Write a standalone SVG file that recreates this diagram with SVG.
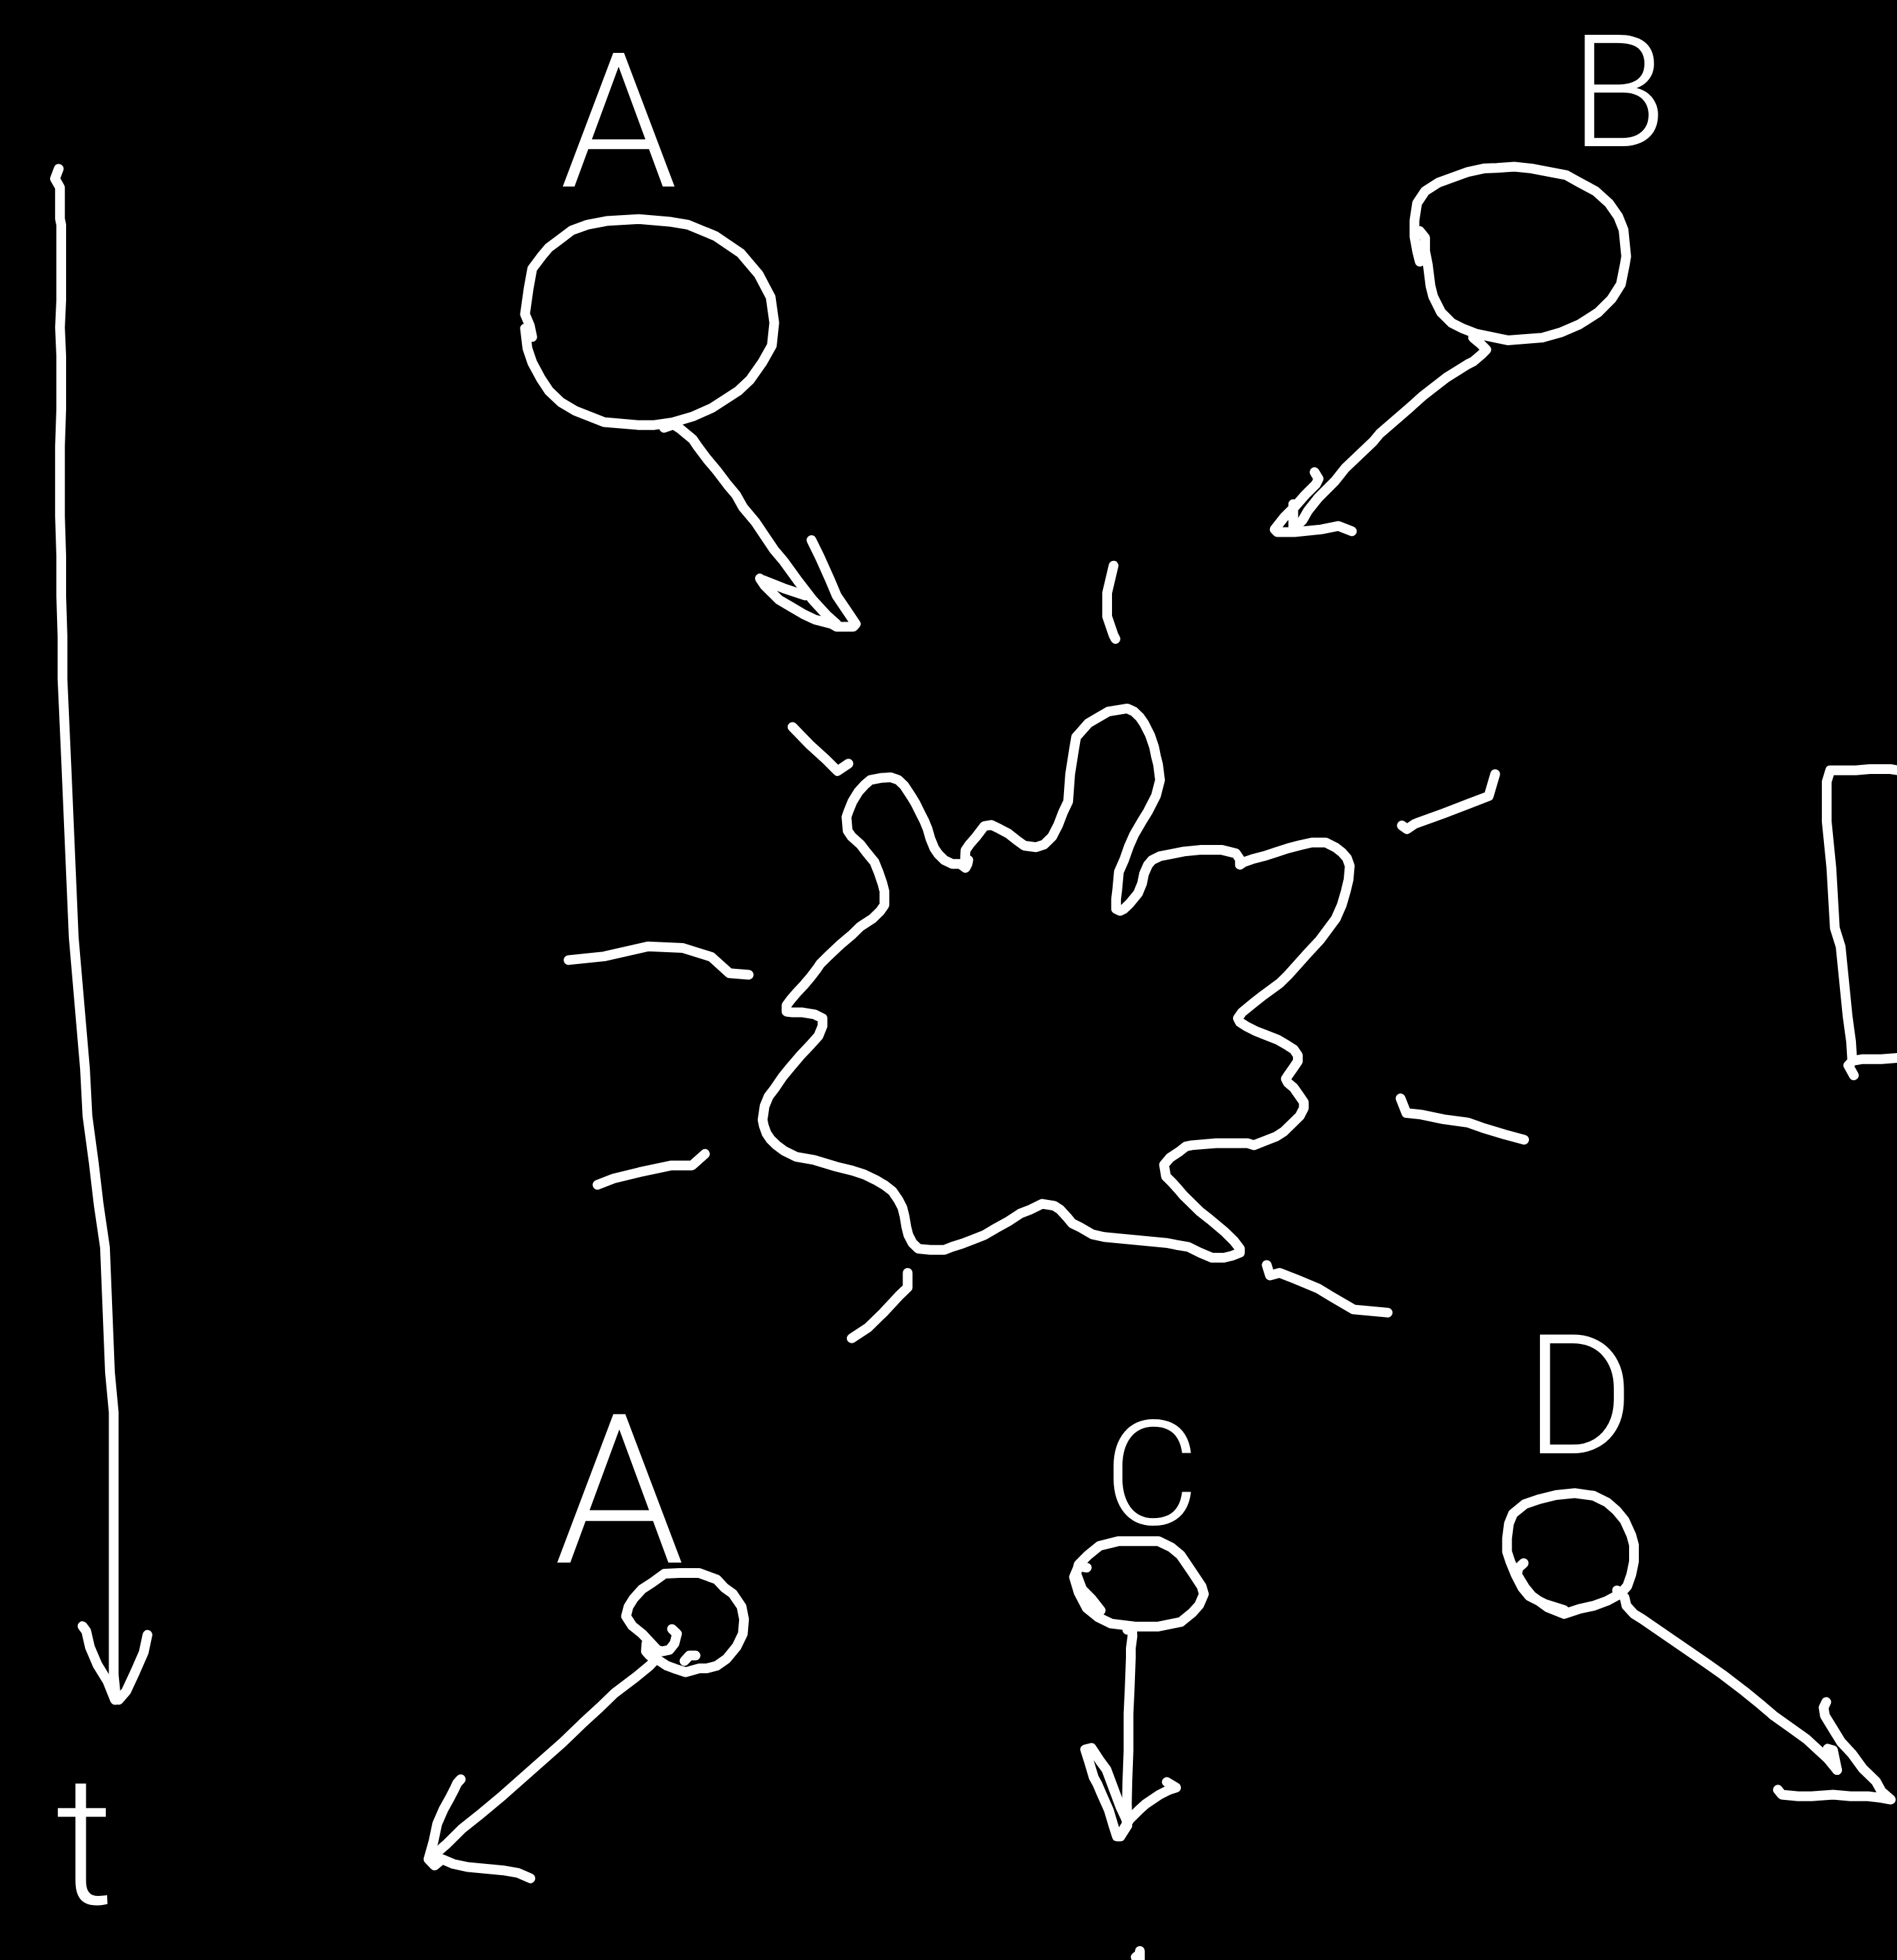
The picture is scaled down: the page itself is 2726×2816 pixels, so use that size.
<svg xmlns="http://www.w3.org/2000/svg" width="2726" height="2816" viewBox="0 0 2726 2816">
<style>
.s{fill:none;stroke:#fff;stroke-width:14;stroke-linecap:round;stroke-linejoin:round;vector-effect:non-scaling-stroke}
.t{fill:#fff;font-family:Roboto,"Open Sans","DejaVu Sans",sans-serif;font-weight:300;text-anchor:middle}
</style>
<rect x="0" y="0" width="2726" height="2816" fill="#000"/>

<g id="time-axis">
<g transform="scale(1.79578)">
<path class="s" d="M47,135 L44,143 L48,150 L48,175 L49,180 L49,240 L48,262 L49,285 L49,327 L48,357 L48,413 L49,445 L49,477 L50,509 L50,543 L53,610 L59,750 L68,855 L70,893 L75,930 L79,964 L84,998 L86,1048 L88,1098 L91,1130 L91,1340 L93,1360"/>
<path class="s" d="M66,1301 L69,1305 L72,1318 L78,1332 L86,1345 L92,1360 M118,1308 L115,1322 L108,1338 L101,1353 L95,1360"/>
</g>
<text class="t" x="122" y="2735" font-size="260">t</text>
</g>

<g id="node-A-top">
<text class="t" x="889" y="268" font-size="270">A</text>
<g transform="translate(720,280) scale(0.3444,0.4082)">
<path class="s" d="M130,500 L120,460 L100,420 L105,390 L115,330 L130,260 L170,215 L200,185 L240,160 L295,125 L360,105 L440,92 L575,85 L710,95 L780,105 L895,145 L1000,205 L1075,280 L1125,360 L1140,450 L1130,530 L1090,590 L1040,650 L990,690 L935,720 L880,750 L800,780 L720,800 L640,810 L570,810 L430,800 L310,760 L250,730 L200,690 L165,645 L130,590 L110,540 L100,470"/>
</g>
</g>

<g id="node-B">
<text class="t" x="2326" y="210" font-size="225">B</text>
<g transform="translate(1780,200) scale(0.3827)">
<path class="s" d="M680,345 L700,370 L700,420 L710,470 L720,550 L730,590 L760,650 L800,690 L840,710 L890,730 L1010,755 L1140,745 L1210,725 L1280,695 L1350,650 L1400,600 L1435,545 L1450,470 L1455,440 L1445,340 L1425,290 L1390,240 L1340,195 L1275,160 L1230,135 L1100,110 L1035,103 L970,108 L920,110 L860,123 L750,163 L700,195 L670,240 L660,305 L660,365 L670,420 L680,460"/>
</g>
</g>

<g id="node-reaction">
<g transform="translate(1070,1000) scale(0.5740,0.5612)">
<path class="s" d="M553,440 L540,430 L520,430 L500,420 L485,405 L475,390 L465,365 L458,340 L450,320 L440,300 L428,275 L418,258 L400,230 L385,215 L365,208 L340,210 L315,215 L300,228 L285,245 L270,270 L260,295 L255,310 L258,345 L268,360 L290,380 L305,400 L325,425 L335,450 L345,480 L350,500 L350,535 L340,550 L320,570 L290,590 L270,610 L240,636 L210,665 L190,685 L180,700 L165,720 L150,738 L130,760 L115,778 L105,792 L105,808 L120,810 L145,810 L175,815 L195,825 L195,845 L185,870 L165,893 L140,920 L115,950 L95,975 L75,1005 L60,1025 L50,1050 L45,1085 L48,1100 L55,1120 L65,1135 L80,1150 L100,1165 L130,1180 L175,1188 L230,1205 L270,1215 L300,1225 L330,1240 L350,1252 L370,1268 L385,1290 L395,1310 L400,1330 L405,1360 L410,1380 L420,1400 L435,1415 L465,1418 L500,1418 L520,1410 L545,1402 L570,1392 L600,1380 L630,1362 L660,1345 L690,1325 L715,1315 L745,1300 L775,1305 L790,1315 L808,1335 L820,1350 L840,1360 L870,1378 L900,1385 L1055,1400 L1080,1405 L1110,1410 L1140,1425 L1170,1438 L1200,1438 L1220,1433 L1240,1425 L1240,1415 L1225,1395 L1200,1370 L1165,1340 L1140,1320 L1120,1300 L1100,1280 L1085,1262 L1070,1245 L1055,1230 L1050,1200 L1065,1182 L1090,1165 L1105,1153 L1120,1150 L1180,1145 L1260,1145 L1275,1150 L1300,1140 L1330,1128 L1350,1115 L1375,1090 L1390,1075 L1400,1055 L1400,1040 L1390,1025 L1375,1003 L1360,990 L1355,980 L1360,972 L1375,950 L1385,935 L1385,920 L1375,905 L1360,895 L1335,880 L1305,868 L1280,858 L1255,845 L1240,835 L1235,825 L1245,810 L1275,785 L1300,765 L1340,735 L1360,715 L1410,658 L1440,625 L1480,570 L1495,535 L1505,500 L1512,470 L1515,435 L1508,415 L1495,400 L1480,388 L1455,375 L1420,375 L1390,382 L1360,390 L1330,400 L1300,410 L1270,418 L1250,425 L1240,432 L1240,418 L1230,403 L1195,394 L1140,394 L1100,398 L1065,405 L1040,410 L1020,420 L1010,432 L1000,455 L995,480 L985,505 L965,530 L950,545 L940,550 L930,545 L930,520 L933,495 L937,450 L950,420 L962,385 L975,355 L995,320 L1010,295 L1030,255 L1040,215 L1035,175 L1030,155 L1025,130 L1015,100 L1000,70 L990,55 L975,40 L958,32 L910,40 L880,58 L860,70 L843,90 L830,105 L825,135 L815,200 L810,270 L797,298 L785,330 L770,360 L750,380 L730,387 L700,383 L680,368 L660,352 L638,340 L618,330 L600,333 L580,360 L563,380 L553,395 L552,415 L560,420 L558,430 L553,440 Z"/>
</g>
<g transform="translate(780,760) scale(0.9247,0.7526)">
<path class="s" d="M887,70 L877,122 L877,167 L887,203 L890,210"/>
<path class="s" d="M388,378 L415,412 L440,440 L458,462 L475,448"/>
<path class="s" d="M40,823 L95,816 L163,797 L218,800 L262,817 L290,848 L320,851"/>
<path class="s" d="M85,1252 L110,1240 L150,1228 L200,1215 L232,1215 L252,1193"/>
<path class="s" d="M567,1420 L567,1448 L555,1462 L530,1495 L505,1525 L480,1545"/>
<path class="s" d="M1125,1405 L1130,1425 L1145,1420 L1170,1432 L1205,1450 L1225,1465 L1260,1490 L1313,1496"/>
<path class="s" d="M1333,1087 L1342,1115 L1365,1118 L1400,1127 L1437,1133 L1460,1143 L1495,1156 L1525,1166"/>
<path class="s" d="M1335,566 L1343,573 L1355,563 L1400,543 L1440,524 L1470,510 L1480,468"/>
</g>
</g>

<g id="node-rect">
<g transform="translate(2560,1060) scale(0.33333)">
<path class="s" d="M500,140 L470,135 L380,135 L320,140 L210,140 L195,190 L195,360 L215,560 L230,820 L255,900 L285,1200 L300,1310 L305,1390 L320,1390 L350,1385 L430,1385 L500,1380"/>
<path class="s" d="M305,1395 L288,1412 L312,1455"/>
</g>
</g>

<g id="node-A-bottom">
<text class="t" x="890" y="2245" font-size="300">A</text>
<g transform="translate(580,1980) scale(0.3571,0.4592)">
<path class="s" d="M1080,785 L1100,800 L1090,830 L1070,850 L1040,855 L1020,850 L990,825 L960,800 L920,775 L895,745 L905,715 L925,690 L960,660 L1000,640 L1050,612 L1110,610 L1190,610 L1260,630 L1290,655 L1325,675 L1360,715 L1370,755 L1365,800 L1340,840 L1300,878 L1260,900 L1220,908 L1190,908 L1135,920 L1095,910 L1060,900 L1030,885 L990,868 L975,855 L977,830"/>
<path class="s" d="M1130,885 L1150,868 L1175,868"/>
</g>
</g>

<g id="node-C">
<text class="t" x="1655" y="2190" font-size="210">C</text>
<g transform="translate(1500,1980) scale(0.33333,0.4464)">
<path class="s" d="M185,610 L150,605 L130,640 L150,690 L185,740 L235,770 L290,790 L400,800 L490,800 L590,785 L640,755 L670,730 L690,695 L680,670 L640,625 L590,570 L550,545 L495,525 L320,525 L240,540 L190,570 L150,600 L140,630 L165,680 L205,710 L245,748"/>
</g>
</g>

<g id="node-D">
<text class="t" x="2270" y="2088" font-size="240">D</text>
<g transform="translate(2120,1880) scale(0.3865,0.4719)">
<path class="s" d="M180,775 L160,790 L155,810 L185,850 L210,875 L270,910 L330,930 L385,915 L440,905 L490,890 L540,868 L565,845 L580,810 L590,770 L590,720 L580,690 L555,645 L525,615 L490,590 L440,570 L370,562 L300,568 L240,580 L185,595 L140,625 L125,655 L118,700 L118,740 L130,770 L150,810 L175,850 L200,875 L260,900 L330,918"/>
</g>
</g>

<g id="connectors">
<g transform="translate(720,280) scale(0.3444,0.4082)">
<path class="s" d="M680,820 L720,808 L750,825 L800,860 L820,885 L860,930 L900,970 L945,1020 L980,1055 L1010,1100 L1060,1150 L1100,1200 L1140,1250 L1180,1290 L1240,1360 L1300,1425 L1360,1480 L1400,1510"/>
<path class="s" d="M1295,1215 L1330,1275 L1370,1350 L1400,1410 L1440,1460 L1480,1510 L1470,1520 L1400,1520 L1380,1510 L1310,1495 L1260,1475 L1210,1450 L1160,1425 L1130,1400 L1100,1375 L1080,1350 M1090,1355 L1180,1385 L1270,1410"/>
</g>
<g transform="translate(1780,200) scale(0.3827)">
<path class="s" d="M880,745 L910,770 L930,790 L910,810 L880,835 L860,845 L780,895 L690,965 L640,1010 L530,1105 L505,1135 L400,1235 L360,1285 L300,1345 L260,1395 L240,1430 L215,1455"/>
<path class="s" d="M285,1250 L300,1275 L290,1295 L250,1335 L215,1375 L170,1420 L135,1465 L145,1475 L210,1475 L310,1465 L375,1452 L390,1458 L425,1472 M205,1370 L205,1470"/>
</g>
<g transform="translate(580,1980) scale(0.3571,0.4592)">
<path class="s" d="M1020,875 L990,900 L935,935 L850,985 L790,1030 L720,1080 L640,1140 L560,1195 L480,1250 L400,1305 L300,1370 L235,1410 L170,1460 L140,1480 L120,1505"/>
<path class="s" d="M230,1255 L215,1268 L205,1285 L185,1315 L160,1350 L135,1395 L120,1450 L100,1505 L125,1525 L155,1505 L200,1520 L260,1530 L400,1540 L460,1548 L510,1565"/>
</g>
<g transform="translate(1500,1980) scale(0.33333,0.4464)">
<path class="s" d="M360,810 L380,800 L382,830 L375,870 L375,900 L370,1000 L365,1080 L365,1200 L360,1300 L358,1370 L360,1410"/>
<path class="s" d="M178,1195 L205,1190 L245,1235 L270,1260 L300,1320 L330,1380 L355,1420 L360,1440 L330,1475 L315,1475 L300,1440 L280,1390 L250,1340 L230,1305 L215,1285 L195,1235 L180,1200 M530,1300 L570,1318 L540,1325 L500,1340 L440,1370 L410,1390 L370,1420 L345,1450"/>
</g>
<g transform="translate(2120,1880) scale(0.3865,0.4719)">
<path class="s" d="M527,858 L555,880 L562,905 L590,930 L620,945 L700,990 L780,1035 L860,1080 L920,1115 L1000,1165 L1060,1205 L1110,1240 L1170,1275 L1230,1310 L1270,1340 L1310,1370 L1345,1405"/>
<path class="s" d="M1305,1198 L1295,1215 L1300,1240 L1330,1280 L1360,1320 L1400,1355 L1440,1400 L1490,1440 L1510,1470 L1545,1495 L1510,1490 L1460,1485 L1395,1485 L1330,1480 L1250,1485 L1200,1485 L1140,1480 L1125,1465 M1310,1340 L1330,1345 L1345,1405"/>
</g>
<path class="s" d="M1638,2803 L1638,2822 M1632,2812 L1637,2808"/>
</g>
</svg>
